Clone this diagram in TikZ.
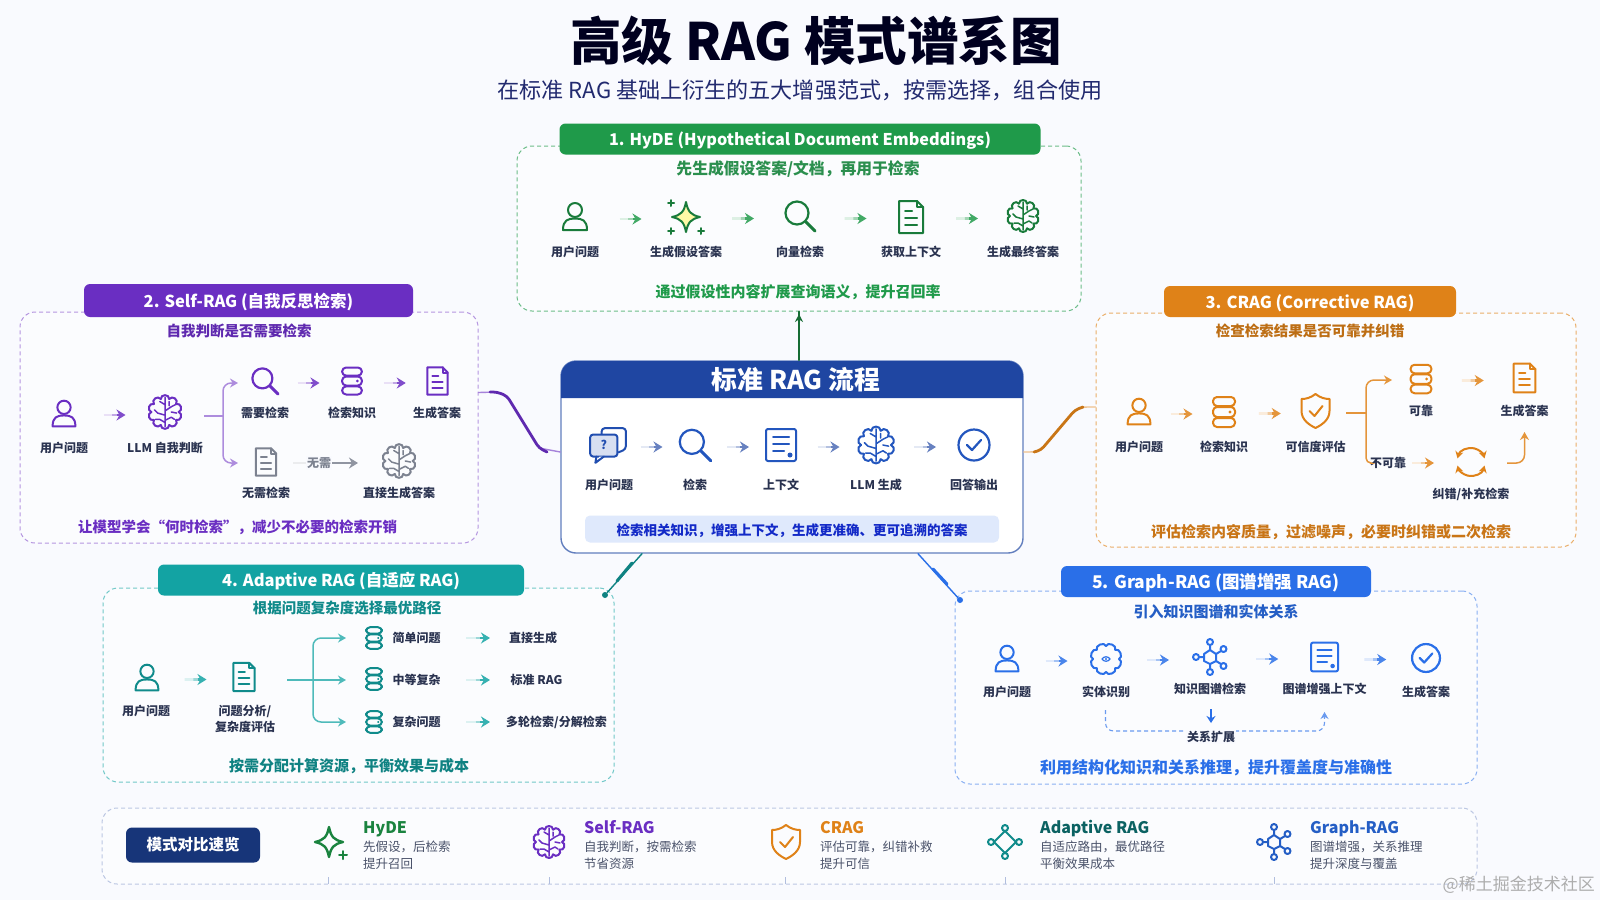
\documentclass[tikz,border=0pt]{standalone}
\usepackage{fontspec}
\setmainfont{Noto Sans CJK SC}
\usetikzlibrary{calc,arrows.meta}
\definecolor{bgc}{HTML}{F9FAFE}
\definecolor{hyC}{HTML}{1F9A4A}
\definecolor{hyT}{HTML}{2B8F4E}
\definecolor{seC}{HTML}{6A2EC2}
\definecolor{crC}{HTML}{DF8218}
\definecolor{adC}{HTML}{13A3A3}
\definecolor{grC}{HTML}{2A6FE8}
\definecolor{maC}{HTML}{1F46A2}
\definecolor{dkC}{HTML}{2A3350}
\definecolor{gyC}{HTML}{7C8290}
\newcommand\fs[1]{\fontsize{#1}{#1}\selectfont}
\newcommand\carr[3]{%
 \draw[#3!15,fl] (#1) -- ($(#1)!.45!(#2)$);
 \draw[#3!42,fl] ($(#1)!.4!(#2)$) -- ($(#1)!.7!(#2)$);
 \draw[#3!85,fl,-{Stealth[length=9pt,width=11pt]}] ($(#1)!.6!(#2)$) -- (#2);}
\newcommand\farr[3]{%
 \coordinate (ma) at ($(#1)!.5!(#2)+(-11,2)$);
 \coordinate (mb) at ($(#1)!.5!(#2)+(11,2)$);
 \carr{ma}{mb}{#3}}
\newcommand\ic[6][1]{\node[ib] (#2) at (#4,#5) {}; \pic[color=#6,scale=#1] at (#2) {#3};}
\newcommand\lb[4]{\node[lbl] (#1) at (#2,#3) {#4};}
\newcommand\scal[2]{\foreach \a in {0,#2,...,359}{\draw[ict] (\a:#1) .. controls ({\a+5}:#1*1.36) and ({\a+#2-5}:#1*1.36) .. ({\a+#2}:#1);}}
\newcommand\starp{(0,-15) .. controls (2,-5) and (5,-2) .. (14,0) .. controls (5,2) and (2,5) .. (0,15) .. controls (-2,5) and (-5,2) .. (-14,0) .. controls (-5,-2) and (-2,-5) .. (0,-15) -- cycle}
\newcommand\plusat[3]{\draw[ict] (#1-#3,#2) -- (#1+#3,#2) (#1,#2-#3) -- (#1,#2+#3);}
\tikzset{
 x=1pt,y=-1pt,
 ib/.style={inner sep=0pt,minimum size=30pt},
 fl/.style={line width=2.8pt},
 ict/.style={line width=2pt,line cap=round,line join=round},
 lbl/.style={inner sep=0pt,text=dkC,font=\fs{12}\bfseries},
 dbox/.style={rounded corners=15pt,dash pattern=on 4pt off 3pt,line width=1pt,fill=white,fill opacity=.45,text opacity=1,inner sep=0pt},
 hdr/.style={rounded corners=6pt,inner sep=0pt,text=white,text height=13pt,text depth=0pt,font=\fs{16.5}\bfseries},
 sub/.style={inner sep=0pt,font=\fs{14.5}\bfseries},
 foot/.style={inner sep=0pt,font=\fs{15}\bfseries},
 conn/.style={line width=1.4pt,line cap=round,line join=round},
 conb/.style={line width=2.8pt,line cap=round,line join=round},
 brn/.style={line width=1.5pt,rounded corners=8pt},
 sttl/.style={inner sep=0pt,anchor=west,text height=12pt,text depth=0pt,font=\fs{16}\bfseries},
 stxt/.style={inner sep=0pt,anchor=west,text=dkC!85,font=\fs{12.5}},
 iuser/.pic={\draw[ict] (0,-7) circle (7); \draw[ict] (-12,13) .. controls (-12,3) and (-7,1.5) .. (0,1.5) .. controls (7,1.5) and (12,3) .. (12,13) -- cycle;},
 isparkle/.pic={\draw[ict,fill=yellow!35] \starp; \plusat{-15}{-14}{3} \plusat{-15}{14}{3} \plusat{15}{14}{3}},
 istar/.pic={\draw[ict,line width=2.4pt] \starp; \plusat{14}{13}{4}},
 imag/.pic={\draw[ict,line width=2.2pt] (-3,-3) circle (11.5); \draw[ict,line width=3pt] (6,6) -- (15,15);},
 idoc/.pic={\draw[ict] (-12,-16) -- (6,-16) -- (12,-10) -- (12,16) -- (-12,16) -- cycle; \draw[ict] (6,-16) -- (6,-10) -- (12,-10); \draw[ict] (-6,-6) -- (1,-6) (-6,1) -- (6,1) (-6,8) -- (6,8);},
 inote/.pic={\draw[ict,rounded corners=2pt] (-15,-16) rectangle (15,16); \draw[ict] (-8,-8) -- (8,-8) (-8,-1) -- (8,-1) (-8,6) -- (3,6); \fill (9,10) circle (2.5);},
 ibrain/.pic={\scal{13}{36} \draw[ict,line width=1.5pt] (0,-14) -- (0,14) (0,-7) -- (-5,-10) (0,-1) -- (6,-5) (6,-5) -- (10,-7) (0,3) -- (-7,1) (-7,1) -- (-10,-2) (0,8) -- (6,5) (6,5) -- (9,7) (0,10) -- (-5,7) (-5,7) -- (-9,7) (4,-10) -- (4,-6) (6,0) -- (11,1);},
 idb/.pic={\draw[ict,rounded corners=4pt] (-11,-15) rectangle (11,-6) (-11,-5) rectangle (11,5) (-11,6) rectangle (11,15); \fill (6,0) circle (1.6);},
 ishield/.pic={\draw[ict] (0,-17) .. controls (5,-13) and (10,-12) .. (14,-12) -- (14,0) .. controls (14,9) and (6,14) .. (0,17) .. controls (-6,14) and (-14,9) .. (-14,0) -- (-14,-12) .. controls (-10,-12) and (-5,-13) .. (0,-17) -- cycle; \draw[ict] (-6,0) -- (-1,5) -- (7,-5);},
 icheck/.pic={\draw[ict,line width=2.2pt] (0,0) circle (15.5); \draw[ict,line width=2.2pt] (-7,0) -- (-2,5) -- (7,-5);},
 ichat/.pic={\draw[ict,rounded corners=3pt] (-6,-10) -- (-6,-16) -- (17,-16) -- (17,4) -- (10,7); \draw[ict,rounded corners=3pt,fill=.!18] (-17,-10) rectangle (9,11); \fill[white] (-8,11) -- (-12,17) -- (-4,11) -- cycle; \draw[ict] (-11,11) -- (-12,17) -- (-4,11); \node (qm) at (-4,0) {\fs{12}\bfseries ?};},
 icycle/.pic={\draw[line width=2pt,{Stealth[length=7pt,width=8pt]}-{Stealth[length=7pt,width=8pt]}] (-165:14) arc (-165:-15:14); \draw[line width=2pt,{Stealth[length=7pt,width=8pt]}-{Stealth[length=7pt,width=8pt]}] (15:14) arc (15:165:14);},
 iblob/.pic={\scal{13}{45} \draw[ict,line width=1.2pt] (-4,0) .. controls (-2,-3) and (2,-3) .. (4,0) .. controls (2,3) and (-2,3) .. (-4,0) -- cycle; \fill (0,0) circle (1.2);},
 igraph/.pic={\draw[ict] (0,-7) -- (6,-3) -- (6,4) -- (0,7) -- (-6,4) -- (-6,-3) -- cycle; \draw[ict] (0,-7) -- (0,-12) (6,-3) -- (11,-6) (6,4) -- (11,7) (0,7) -- (0,12) (-6,0) -- (-11,0); \draw[ict] (0,-15) circle (3) (13.5,-8) circle (3) (13.5,9) circle (3) (0,15) circle (3) (-14,0) circle (3);},
 iadapt/.pic={\draw[ict] (0,-11) -- (11,0) -- (0,11) -- (-11,0) -- cycle; \draw[ict] (0,-14) circle (3) (14,0) circle (3) (0,14) circle (3) (-14,0) circle (3);},
}
\begin{document}
\begin{tikzpicture}
\useasboundingbox (0,0) rectangle (1600,900);
\fill[bgc] (0,0) rectangle (1600,900);

% Title
\node[inner sep=0pt,text=black!88!blue,font=\fs{51.5}\bfseries] (title) at (816,41) {高级 RAG 模式谱系图};
\node[inner sep=0pt,text=dkC!82!blue,font=\fs{22.1}] (subtitle) at (800,90) {在标准 RAG 基础上衍生的五大增强范式，按需选择，组合使用};

% ---- dashed boxes
\node[dbox,draw=hyC!65,minimum width=564pt,minimum height=165pt] (b1) at (799,228.5) {};
\node[dbox,draw=seC!50,minimum width=458pt,minimum height=231pt] (b2) at (249,427.5) {};
\node[dbox,draw=crC!65,minimum width=480pt,minimum height=234pt] (b3) at (1336,430) {};
\node[dbox,draw=adC!60,minimum width=511pt,minimum height=194pt] (b4) at (358.5,685) {};
\node[dbox,draw=grC!55,minimum width=522pt,minimum height=193pt] (b5) at (1216,687.5) {};
\node[dbox,draw=maC!30,minimum width=1375pt,minimum height=76pt] (b6) at (789.5,846) {};

% ---- connectors between the centre and the modes
\node[draw=maC!70!white,line width=1.4pt,fill=white,rounded corners=15pt,minimum width=462pt,minimum height=192pt,inner sep=0pt] (mainbox) at (792,457) {};
\draw[conn,color=hyC!70!black] ([xshift=7pt]mainbox.north) -- (b1.south);
\draw[conb,color=hyC!70!black,-{Stealth[length=8pt,width=8pt]}] (799,345) -- (799,314);
\draw[conn,color=seC!60,rounded corners=4pt] ([yshift=35pt]b2.east) -- (497,392) -- (507,396) -- (539,448) -- ([yshift=5pt]mainbox.west);
\draw[conb,color=seC!90!black,rounded corners=4pt] (490,392) -- (497,392) -- (507,396) -- (539,448) -- (547,452);
\draw[conn,color=crC!50,rounded corners=4pt] ([yshift=5pt]mainbox.east) -- (1034,452) -- (1041,450) -- (1075,410) -- (1083,407) -- ([yshift=23pt]b3.west);
\draw[conb,color=crC!90!black,rounded corners=4pt] (1034,452) -- (1041,450) -- (1075,410) -- (1083,407);
\node[circle,fill=adC!80!black,inner sep=0pt,minimum size=6pt] (d4) at (605,595) {};
\node[circle,fill=grC,inner sep=0pt,minimum size=6pt] (d5) at (960,600) {};
\draw[conn,color=adC!80!black] ([xshift=-150pt]mainbox.south) -- (d4);
\draw[conn,color=grC] ([xshift=126pt]mainbox.south) -- (d5);
\draw[line width=3pt,color=adC!80!black,line cap=round] (632,563) -- (617,581);
\draw[line width=3pt,color=grC,line cap=round] (933,569) -- (947,584);

% ---- main
\fill[maC] (561,398) [rounded corners=15pt] -- (561,361) -- (1023,361) [sharp corners] -- (1023,398) -- cycle;
\node[inner sep=0pt,text=white,font=\fs{25.8}\bfseries] (maint) at (796,380) {标准 RAG 流程};
\ic[1.05]{m1}{ichat}{608}{445}{maC!80!grC}
\ic[1.05]{m2}{imag}{695}{445}{maC!60!grC}
\ic{m3}{inote}{781}{445}{maC!60!grC}
\ic[1.15]{m4}{ibrain}{876}{445}{maC!60!grC}
\ic{m5}{icheck}{974}{445}{maC!60!grC}
\lb{ml1}{609}{485}{用户问题}\lb{ml2}{695}{485}{检索}\lb{ml3}{781}{485}{上下文}\lb{ml4}{876}{485}{LLM 生成}\lb{ml5}{974}{485}{回答输出}
\farr{m1}{m2}{maC!80!white}\farr{m2}{m3}{maC!80!white}\farr{m3}{m4}{maC!80!white}\farr{m4}{m5}{maC!80!white}
\node[fill=grC!15,rounded corners=5pt,minimum width=414pt,minimum height=27pt,inner sep=0pt,text=maC!60!blue,text height=12pt,text depth=0pt,font=\fs{13.5}\bfseries] (mban) at (792,529) {检索相关知识，增强上下文，生成更准确、更可追溯的答案};

% ---- 1 HyDE
\node[hdr,fill=hyC,minimum width=481pt,minimum height=31pt,font=\fs{16.2}\bfseries] (h1) at (800,139) {1. HyDE (Hypothetical Document Embeddings)};
\node[sub,text=hyT,font=\fs{15.8}\bfseries] (s1) at (798,169) {先生成假设答案/文档，再用于检索};
\ic{a1}{iuser}{575}{217}{hyC!80!black}
\ic{a2}{isparkle}{686}{217}{hyC!80!black}
\ic{a3}{imag}{800}{216}{hyC!80!black}
\ic{a4}{idoc}{911}{217}{hyC!80!black}
\ic{a5}{ibrain}{1023}{216}{hyC!80!black}
\lb{al1}{575}{252}{用户问题}\lb{al2}{686}{252}{生成假设答案}\lb{al3}{800}{252}{向量检索}\lb{al4}{911}{252}{获取上下文}\lb{al5}{1023}{252}{生成最终答案}
\farr{a1}{a2}{hyC}\farr{a2}{a3}{hyC}\farr{a3}{a4}{hyC}\farr{a4}{a5}{hyC}
\node[foot,text=hyC] (f1) at (798,292) {通过假设性内容扩展查询语义，提升召回率};

% ---- 2 Self-RAG
\node[hdr,fill=seC,minimum width=329pt,minimum height=33pt] (h2) at (248.5,300.5) {2. Self-RAG (自我反思检索)};
\node[sub,text=seC!90!black] (s2) at (239,331) {自我判断是否需要检索};
\ic[.95]{c1}{iuser}{64}{414}{seC}
\ic[1.05]{c2}{ibrain}{165}{412}{seC}
\ic[.87]{c3}{imag}{265}{381}{seC}
\ic[.9]{c4}{idb}{352}{381}{seC}
\ic[.85]{c5}{idoc}{437.5}{381}{seC}
\ic[.85]{c6}{idoc}{266}{462}{gyC}
\ic[1.05]{c7}{ibrain}{399}{461}{gyC}
\lb{cl1}{64}{448}{用户问题}\lb{cl2}{165}{448}{LLM 自我判断}\lb{cl3}{265}{413}{需要检索}\lb{cl4}{352}{413}{检索知识}\lb{cl5}{437}{413}{生成答案}\lb{cl6}{266}{493}{无需检索}\lb{cl7}{399}{493}{直接生成答案}
\farr{c1}{c2}{seC}\farr{c3}{c4}{seC}\farr{c4}{c5}{seC}
\coordinate (c2t) at (204,416);\coordinate (c2j) at (223,416);\coordinate (c3in) at (238,383);\coordinate (c6in) at (238,463);
\draw[brn,seC!55] (c2t) -- (c2j);
\draw[brn,seC!55,-{Stealth[length=8pt,width=9pt]}] (c2j) -- (c2j |- c3in) -- (c3in);
\draw[brn,seC!55,-{Stealth[length=8pt,width=9pt]}] (c2j) -- (c2j |- c6in) -- (c6in);
\coordinate (c6o) at (293,463);\coordinate (c7i) at (358,463);
\carr{c6o}{c7i}{gyC}
\node[fill=bgc,inner sep=1pt,text=gyC,font=\fs{12}\bfseries] (cn) at (319,463) {无需};
\node[foot,text=seC,font=\fs{14.5}\bfseries] (f2) at (237.5,527) {让模型学会“何时检索”，减少不必要的检索开销};

% ---- 3 CRAG
\node[hdr,fill=crC,minimum width=292pt,minimum height=31pt] (h3) at (1310,301.5) {3. CRAG (Corrective RAG)};
\node[sub,text=crC!85!black] (s3) at (1310,331) {检查检索结果是否可靠并纠错};
\ic[.95]{r1}{iuser}{1139}{412}{crC}
\ic{r2}{idb}{1224}{412}{crC}
\ic{r3}{ishield}{1315.5}{411}{crC}
\ic[.95]{r4}{idb}{1421}{379}{crC}
\ic[.9]{r5}{idoc}{1524.5}{378}{crC}
\ic{r6}{icycle}{1471}{462}{crC}
\lb{rl1}{1139}{447}{用户问题}\lb{rl2}{1224}{447}{检索知识}\lb{rl3}{1315.5}{447}{可信度评估}\lb{rl4}{1421}{411}{可靠}\lb{rl5}{1524.5}{411}{生成答案}\lb{rl6}{1471}{494}{纠错/补充检索}
\node[lbl] (rl7) at (1388,463) {不可靠};
\farr{r1}{r2}{crC}\farr{r2}{r3}{crC}\farr{r4}{r5}{crC}
\coordinate (r3t) at (1346,413);\coordinate (r3j) at (1366,413);\coordinate (r4in) at (1392,380);\coordinate (r7o) at (1412,463);\coordinate (r6i) at (1434,463);\coordinate (r6o) at (1507,463);\coordinate (r5i) at (1524.5,432);
\draw[brn,crC!85] (r3t) -- (r3j);
\draw[brn,crC!85,-{Stealth[length=8pt,width=9pt]}] (r3j) -- (r3j |- r4in) -- (r4in);
\draw[brn,crC!85,rounded corners=5pt] (r3j) -- (r3j |- rl7) -- (rl7.west);
\carr{r7o}{r6i}{crC}
\draw[brn,crC!85,-{Stealth[length=8pt,width=9pt]}] (r6o) -- (r6o -| r5i) -- (r5i);
\node[foot,text=crC!90!black] (f3) at (1331,532) {评估检索内容质量，过滤噪声，必要时纠错或二次检索};

% ---- 4 Adaptive
\node[hdr,fill=adC,minimum width=366pt,minimum height=31pt] (h4) at (341,580) {4. Adaptive RAG (自适应 RAG)};
\node[sub,text=adC!85!black] (s4) at (347,608) {根据问题复杂度选择最优路径};
\ic[.95]{d1}{iuser}{147}{678}{adC!85!black}
\ic[.88]{d2}{idoc}{244}{677}{adC!85!black}
\ic[.72]{d3}{idb}{374}{638}{adC!85!black}
\ic[.72]{d6}{idb}{374}{679}{adC!85!black}
\ic[.72]{d7}{idb}{374}{722}{adC!85!black}
\lb{dl1}{146}{711}{用户问题}\lb{dl2}{245}{711}{问题分析/}\lb{dl3}{245}{727}{复杂度评估}
\lb{dl4}{416.5}{638}{简单问题}\lb{dl5}{416.5}{680}{中等复杂}\lb{dl6}{416.5}{722}{复杂问题}
\lb{dl7}{533}{638}{直接生成}\lb{dl8}{536.5}{680}{标准 RAG}\lb{dl9}{556.5}{722}{多轮检索/分解检索}
\farr{d1}{d2}{adC}
\coordinate (p1a) at (466,638);\coordinate (p1b) at (490,638);\coordinate (p2a) at (466,680);\coordinate (p2b) at (490,680);\coordinate (p3a) at (466,722);\coordinate (p3b) at (490,722);
\carr{p1a}{p1b}{adC}\carr{p2a}{p2b}{adC}\carr{p3a}{p3b}{adC}
\coordinate (d2o) at (287,680);\coordinate (d2j) at (313,680);\coordinate (q1) at (346,638);\coordinate (q2) at (346,680);\coordinate (q3) at (346,722);
\draw[brn,adC!75,-{Stealth[length=8pt,width=9pt]}] (d2o) -- (q2);
\draw[brn,adC!75,-{Stealth[length=8pt,width=9pt]}] (d2j) -- (d2j |- q1) -- (q1);
\draw[brn,adC!75,-{Stealth[length=8pt,width=9pt]}] (d2j) -- (d2j |- q3) -- (q3);
\node[foot,text=adC!80!black] (f4) at (349,766) {按需分配计算资源，平衡效果与成本};

% ---- 5 Graph
\node[hdr,fill=grC,minimum width=310pt,minimum height=31pt,font=\fs{17.5}\bfseries] (h5) at (1216,581.5) {5. Graph-RAG (图谱增强 RAG)};
\node[sub,text=grC!85!black,font=\fs{15}\bfseries] (s5) at (1216,612) {引入知识图谱和实体关系};
\ic[.95]{g1}{iuser}{1007}{659}{grC}
\ic{g2}{iblob}{1106}{659}{grC}
\ic{g3}{igraph}{1210}{657}{grC}
\ic[.9]{g4}{inote}{1324.5}{657}{grC}
\ic[.9]{g5}{icheck}{1426}{658}{grC}
\lb{gl1}{1007}{692}{用户问题}\lb{gl2}{1106}{692}{实体识别}\lb{gl3}{1210}{689}{知识图谱检索}\lb{gl4}{1324.5}{689}{图谱增强上下文}\lb{gl5}{1426}{692}{生成答案}
\farr{g1}{g2}{grC}\farr{g2}{g3}{grC}\farr{g3}{g4}{grC}\farr{g4}{g5}{grC}
\coordinate (g2d) at (1105.5,710);\coordinate (g4d) at (1324.5,712);\coordinate (g3a) at (1211,709);\coordinate (g3b) at (1211,723);\coordinate (gm) at (1215,731);
\draw[line width=1.1pt,grC!70,dash pattern=on 4pt off 3pt,rounded corners=8pt,-{Stealth[length=7pt,width=8pt]}] (g2d) -- (g2d |- gm) -- (g4d |- gm) -- (g4d);
\draw[line width=1.8pt,grC,-{Stealth[length=7pt,width=9pt]}] (g3a) -- (g3b);
\node[fill=bgc,inner sep=1pt,text=dkC,font=\fs{12}\bfseries] (gex) at (1211,737) {关系扩展};
\node[foot,text=grC,font=\fs{16}\bfseries] (f5) at (1216,768) {利用结构化知识和关系推理，提升覆盖度与准确性};

% ---- comparison strip
\node[fill=maC!75!black,rounded corners=6pt,minimum width=134pt,minimum height=35pt,inner sep=0pt,text=white,font=\fs{15.5}\bfseries] (btn) at (193,845) {模式对比速览};
\ic{e1}{istar}{329}{842}{hyC!85!black}
\ic{e2}{ibrain}{549}{842}{seC}
\ic{e3}{ishield}{786}{842}{crC}
\ic{e4}{iadapt}{1005}{842}{adC!85!black}
\ic{e5}{igraph}{1274}{842}{grC!85!black}
\node[sttl,text=hyC!85!black] (t1) at (363,827) {HyDE};
\node[stxt] (t1a) at (363,847) {先假设，后检索};
\node[stxt] (t1b) at (363,864) {提升召回};
\node[sttl,text=seC] (t2) at (584,827) {Self-RAG};
\node[stxt] (t2a) at (584,847) {自我判断，按需检索};
\node[stxt] (t2b) at (584,864) {节省资源};
\node[sttl,text=crC] (t3) at (820,827) {CRAG};
\node[stxt] (t3a) at (820,847) {评估可靠，纠错补救};
\node[stxt] (t3b) at (820,864) {提升可信};
\node[sttl,text=adC!60!black] (t4) at (1040,827) {Adaptive RAG};
\node[stxt] (t4a) at (1040,847) {自适应路由，最优路径};
\node[stxt] (t4b) at (1040,864) {平衡效果成本};
\node[sttl,text=grC!85!black] (t5) at (1310,827) {Graph-RAG};
\node[stxt] (t5a) at (1310,847) {图谱增强，关系推理};
\node[stxt] (t5b) at (1310,864) {提升深度与覆盖};
\foreach \tx in {328,549,785,1005,1274}{\draw[line width=.6pt,maC!35] (\tx,877) -- (\tx,884);}

% ---- watermark
\node[inner sep=0pt,anchor=east,text=black!32,font=\fs{17}] (wm) at (1595,885) {@稀土掘金技术社区};
\end{tikzpicture}
\end{document}
